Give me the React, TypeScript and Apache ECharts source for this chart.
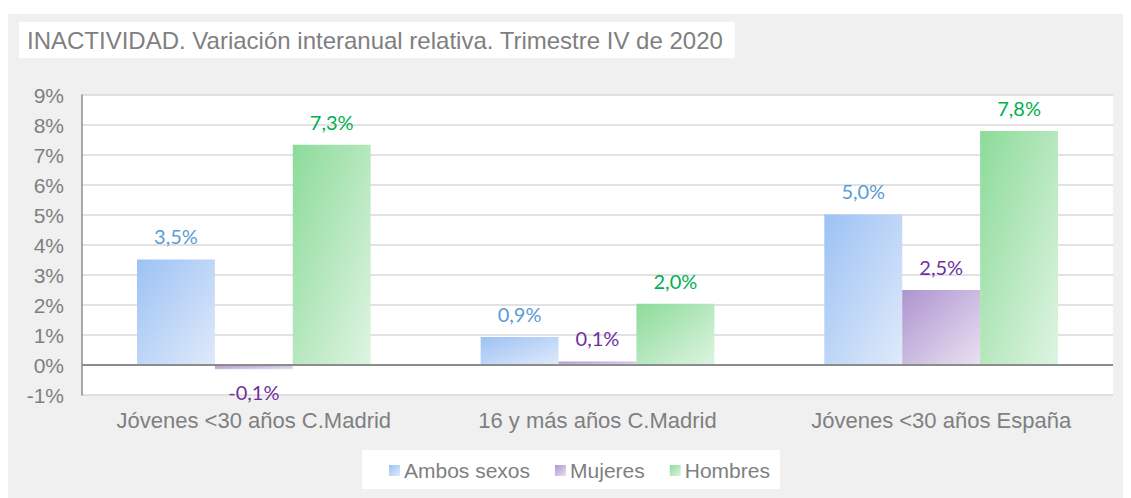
import React, { useEffect, useRef } from "react";
import * as echarts from "echarts";

const categories = ["Jóvenes <30 años C.Madrid", "16 y más años C.Madrid", "Jóvenes <30 años España"];
const ambos = [3.52, 0.93, 5.02];
const mujeres = [-0.14, 0.12, 2.5];
const hombres = [7.34, 2.04, 7.8];
const seriesNames = ["Ambos sexos", "Mujeres", "Hombres"];
const titleText = "INACTIVIDAD. Variación interanual relativa. Trimestre IV de 2020";

const grad = (a: string, b: string) =>
  new echarts.graphic.LinearGradient(0, 0, 1, 1, [
    { offset: 0, color: a },
    { offset: 1, color: b },
  ]);

export default function App() {
  const ref = useRef<HTMLDivElement>(null);
  useEffect(() => {
    if (!ref.current) return;
    const chart = echarts.init(ref.current, null, { renderer: "svg" });
    const fills = [
      grad("#9cc2f4", "#e0eafa"),
      grad("#ae94d0", "#e9e1f1"),
      grad("#8cdb99", "#dff4e2"),
    ];
    const labelColors = ["#5b9bd5", "#7030a0", "#00b050"];
    const all = [ambos, mujeres, hombres];
    const fmt = (v: number) => v.toFixed(1).replace(".", ",") + "%";
    const series: any[] = all.map((vals, i) => ({
      name: seriesNames[i],
      type: "bar",
      barGap: "0%",
      barCategoryGap: "32%",
      itemStyle: { color: fills[i] },
      data: vals.map((v) => ({
        value: v,
        label: { position: v < 0 ? "bottom" : "top" },
      })),
      label: {
        show: true,
        distance: 13,
        color: labelColors[i],
        fontFamily: "Lato",
        fontSize: 20,
        formatter: (p: any) => fmt(p.value),
      },
    }));
    series[0].markLine = {
      silent: true,
      symbol: "none",
      label: { show: false },
      lineStyle: { color: "#8c8c8c", width: 2, type: "solid" },
      data: [{ yAxis: 0 }],
    };
    chart.setOption({
      animation: false,
      backgroundColor: "#f0f0f0",
      grid: {
        left: 74,
        top: 81,
        width: 1031,
        height: 300,
        show: true,
        backgroundColor: "#ffffff",
        borderWidth: 0,
      },
      xAxis: {
        type: "category",
        data: categories,
        axisLine: { show: false },
        axisTick: { show: false },
        axisLabel: {
          interval: 0,
          hideOverlap: false,
          color: "#7f7f7f",
          fontFamily: "Liberation Sans",
          fontSize: 22,
          margin: 14,
        },
      },
      yAxis: {
        type: "value",
        min: -1,
        max: 9,
        interval: 1,
        axisLine: { show: true, lineStyle: { color: "#8c8c8c", width: 1.5 } },
        axisTick: { show: false },
        splitLine: { lineStyle: { color: "#d9d9d9", width: 1.5 } },
        axisLabel: {
          color: "#7f7f7f",
          fontFamily: "Liberation Sans",
          fontSize: 21,
          margin: 18,
          formatter: (v: number) => v + "%",
        },
      },
      legend: {
        data: seriesNames,
        left: 376,
        top: 441,
        itemWidth: 11,
        itemHeight: 11,
        itemGap: 25,
        icon: "rect",
        textStyle: {
          color: "#7f7f7f",
          fontFamily: "Liberation Sans",
          fontSize: 21,
          padding: [0, 0, 0, -1],
        },
      },
      graphic: [
        {
          type: "rect",
          z: -1,
          shape: { x: 11, y: 8, width: 716, height: 36 },
          style: { fill: "#ffffff" },
        },
        {
          type: "text",
          x: 19,
          y: 26,
          style: {
            text: titleText,
            fill: "#7f7f7f",
            font: "24px 'Liberation Sans'",
            verticalAlign: "middle",
          },
        },
        {
          type: "rect",
          z: -1,
          shape: { x: 354, y: 436, width: 418, height: 39 },
          style: { fill: "#ffffff" },
        },
      ],
      series,
    });
    return () => chart.dispose();
  }, []);
  return (
    <div style={{ paddingTop: 6 }}>
      <div ref={ref} style={{ width: 1123, height: 484 }} />
    </div>
  );
}
